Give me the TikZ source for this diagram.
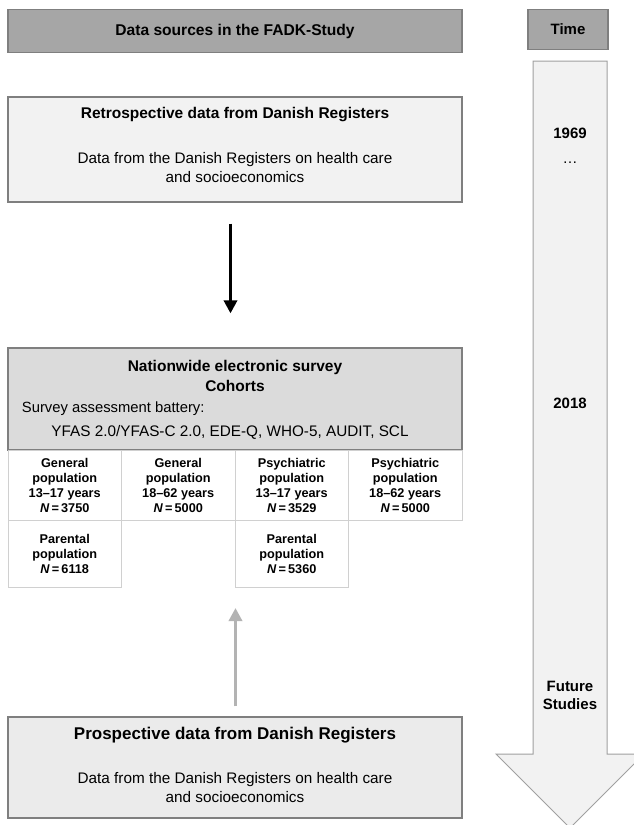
\documentclass[tikz,border=0pt]{standalone}
\usepackage{fontspec}
\setmainfont{Liberation Sans}
\usetikzlibrary{arrows.meta}

\definecolor{headgray}{HTML}{A6A6A6}
\definecolor{framegray}{HTML}{7F7F7F}
\definecolor{boxgray}{HTML}{F2F2F2}
\definecolor{surveygray}{HTML}{DBDBDB}
\definecolor{cellgray}{HTML}{D0D0D0}
\definecolor{prospgray}{HTML}{EBEBEB}
\definecolor{arrowgray}{HTML}{B3B3B3}
\definecolor{timegray}{HTML}{A0A0A0}

\tikzset{
  boldtext/.style={font=\fontsize{15.5}{20}\selectfont\bfseries, align=center},
  plaintext/.style={font=\fontsize{15.3}{19}\selectfont, align=center},
  timetext/.style={font=\fontsize{15}{18}\selectfont\bfseries, align=center},
  bigarrow/.style={line width=3.5pt, -{Triangle[width=13pt,length=13pt]}}
}

\begin{document}
\begin{tikzpicture}[x=1pt,y=-1pt]

      \useasboundingbox (0,0) rectangle (634,825);
      \fill[white] (0,0) rectangle (634,825);

      \draw[timegray, fill=boxgray, line width=1pt]
        (533,61) -- (607,61) -- (607,754) -- (644,754) -- (570,828)
        -- (496,754) -- (533,754) -- cycle;

      \begin{scope}[every node/.style={draw=framegray, line width=1.2pt, inner sep=0pt}]
        \node[fill=headgray, minimum width=454pt, minimum height=42.5pt,
              font=\fontsize{15.6}{18}\selectfont\bfseries] (title) at (235,31) {Data sources in the FADK-Study};
        \node[fill=headgray, minimum width=80pt, minimum height=40pt,
              font=\fontsize{15}{18}\selectfont\bfseries] (time) at (568,29.5) {Time};
        \node[fill=boxgray, minimum width=454pt, minimum height=105pt] (retro) at (235,149.5) {};
        \node[fill=surveygray, minimum width=454pt, minimum height=102pt] (survey) at (235,399) {};
        \node[fill=prospgray, minimum width=454pt, minimum height=101pt] (prosp) at (235,767.5) {};
      \end{scope}

      \node[boldtext] (retrohead) at (235,115) {Retrospective data from Danish Registers};
      \node[plaintext] (retrobody) at (235,167.5) {Data from the Danish Registers on health care\\and socioeconomics};

      \node[boldtext] (surveyhead) at (235,376) {Nationwide electronic survey\\Cohorts};
      \node[plaintext, font=\fontsize{14.8}{18}\selectfont, anchor=west, inner sep=0pt] (battery) at (21.7,409) {Survey assessment battery:};
      \node[plaintext] (measures) at (230,432) {YFAS 2.0/YFAS-C 2.0, EDE-Q, WHO-5, AUDIT, SCL};

      \node[font=\fontsize{17}{20}\selectfont\bfseries] (prosphead) at (235,735) {Prospective data from Danish Registers};
      \node[plaintext] (prospbody) at (235,787.5) {Data from the Danish Registers on health care\\and socioeconomics};

      \begin{scope}[every node/.style={draw=cellgray, fill=white, line width=0.8pt, minimum width=113.5pt,
                                       inner sep=0pt, align=center, font=\fontsize{12.7}{15}\selectfont\bfseries}]
        \node[minimum height=70pt] (gen1) at (64.75,485)  {General\\population\\13--17 years\\\textit{N}\,=\,3750};
        \node[minimum height=70pt] (gen2) at (178.25,485) {General\\population\\18--62 years\\\textit{N}\,=\,5000};
        \node[minimum height=70pt] (psy1) at (291.75,485) {Psychiatric\\population\\13--17 years\\\textit{N}\,=\,3529};
        \node[minimum height=70pt] (psy2) at (405.25,485) {Psychiatric\\population\\18--62 years\\\textit{N}\,=\,5000};
        \node[minimum height=67pt] (par1) at (64.75,553.5)  {Parental\\population\\\textit{N}\,=\,6118};
        \node[minimum height=67pt] (par2) at (291.75,553.5) {Parental\\population\\\textit{N}\,=\,5360};
      \end{scope}

      \node[timetext] (y1969) at (570,133) {1969};
      \node[font=\fontsize{15}{18}\selectfont] (ydots) at (570,163) {\ldots};
      \node[timetext] (y2018) at (570,403) {2018};
      \node[timetext] (future) at (570,695) {Future\\Studies};

      \coordinate (cohortsbottom) at (235.5,587);

      \draw[bigarrow, shorten <=21pt, shorten >=34pt]
        ([xshift=-4.5pt]retro.south) -- ([xshift=-4.5pt]survey.north);
      \draw[bigarrow, arrowgray, shorten <=10pt, shorten >=21pt]
        ([xshift=0.5pt]prosp.north) -- (cohortsbottom);

    \end{tikzpicture}
\end{document}
